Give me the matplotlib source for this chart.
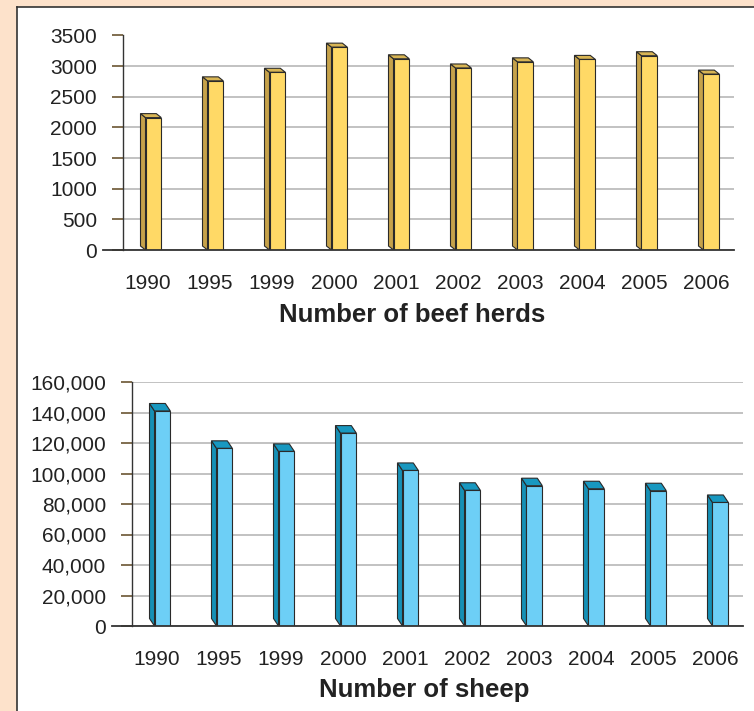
import matplotlib
matplotlib.use('Agg')
import matplotlib.pyplot as plt
from matplotlib.patches import Polygon, Rectangle
from matplotlib.lines import Line2D

plt.rcParams['font.family'] = ['Liberation Sans', 'DejaVu Sans']

# data
years = ['1990', '1995', '1999', '2000', '2001', '2002', '2003', '2004', '2005', '2006']
beef_herds = [2160, 2760, 2900, 3310, 3120, 2970, 3070, 3110, 3170, 2870]
sheep = [141000, 116500, 114500, 126500, 102000, 89000, 92000, 90000, 88700, 81000]

W, H = 754, 711
fig = plt.figure(figsize=(W / 100, H / 100), dpi=100)
fig.patch.set_facecolor('#fde2cb')

# white panel with dark top/left border (kept behind the axes)
fig.patches.append(Rectangle((17 / W, 0), 1 - 17 / W, 1 - 6.5 / H, transform=fig.transFigure,
                             facecolor='white', edgecolor='none', zorder=-2))
fig.lines.append(Line2D([17 / W, 17 / W], [0, 1 - 6.5 / H], transform=fig.transFigure,
                        color='#333333', lw=1.2, zorder=-1))
fig.lines.append(Line2D([17 / W, 1], [1 - 6.5 / H, 1 - 6.5 / H], transform=fig.transFigure,
                        color='#333333', lw=1.2, zorder=-1))

xlim = (-0.403, 9.452)
px_per_unit = 62.0


def bars3d(ax, values, ymax, ystep, axes_h_px, front, side, top, depth_y_px, fmt):
    n = len(values)
    ax.set_xlim(*xlim)
    ax.set_ylim(0, ymax)
    ax.set_facecolor('none')
    dx = 5 / px_per_unit
    dy = depth_y_px * ymax / axes_h_px
    left = [i - 0.04 for i in range(n)]
    w = 0.255
    for xl, h in zip(left, values):
        ax.add_patch(Polygon([(xl, 0), (xl, h), (xl - dx, h + dy), (xl - dx, dy)],
                             closed=True, facecolor=side, edgecolor='#2a2a2a', lw=0.8, zorder=3))
        ax.add_patch(Polygon([(xl, h), (xl + w, h), (xl + w - dx, h + dy), (xl - dx, h + dy)],
                             closed=True, facecolor=top, edgecolor='#2a2a2a', lw=0.8, zorder=3))
    ax.bar(left, values, width=w, align='edge', color=front, edgecolor='#2a2a2a', lw=0.8, zorder=4)

    ax.set_xticks(range(n))
    ax.set_xticklabels(years)
    ax.set_yticks(range(0, ymax + 1, ystep))
    ax.set_yticklabels([fmt(v) for v in range(0, ymax + 1, ystep)])
    ax.yaxis.grid(True, color='#bdbdbd', lw=1.3)
    ax.set_axisbelow(True)
    for s in ['top', 'right', 'bottom']:
        ax.spines[s].set_visible(False)
    ax.spines['left'].set_color('#333333')
    ax.spines['left'].set_linewidth(1.0)
    ax.tick_params(axis='y', length=7.8, width=1.2, color='#6b5532', pad=11,
                   labelsize=15, labelcolor='#222222')
    ax.tick_params(axis='x', length=0, pad=17, labelsize=15, labelcolor='#222222')
    # baseline runs a little past the y axis
    ax.plot([-20 / 611, 1], [0, 0], transform=ax.get_yaxis_transform(), color='#333333',
            lw=1.3, clip_on=False, zorder=5)


ax1 = fig.add_axes([123 / W, 1 - 250 / H, 611 / W, 214.5 / H])
bars3d(ax1, beef_herds, 3500, 500, 214.5, '#ffd966', '#c6a24a', '#d8b554', 4,
       lambda v: str(v))

ax2 = fig.add_axes([132 / W, 1 - 626 / H, 611 / W, 244 / H])
bars3d(ax2, sheep, 160000, 20000, 244, '#6dcff6', '#1590b6', '#1898c0', 7.5,
       lambda v: f'{v:,}')

fig.text(412.5 / W, 1 - 315 / H, 'Number of beef herds', ha='center', va='center',
         fontsize=18.5, fontweight='bold', color='#222222')
fig.text(424 / W, 1 - 690 / H, 'Number of sheep', ha='center', va='center',
         fontsize=18.5, fontweight='bold', color='#222222')

fig.savefig('out.png', dpi=100, facecolor=fig.get_facecolor())
